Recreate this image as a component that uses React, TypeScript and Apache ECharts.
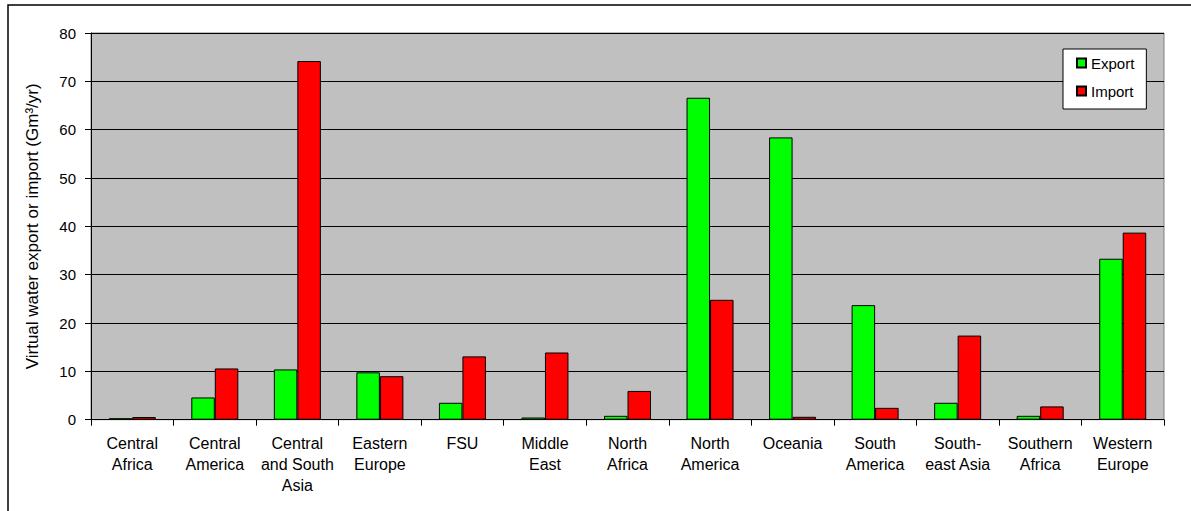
import React, { useEffect, useRef } from "react";
import * as echarts from "echarts";

const categories = [
  "Central\nAfrica",
  "Central\nAmerica",
  "Central\nand South\nAsia",
  "Eastern\nEurope",
  "FSU",
  "Middle\nEast",
  "North\nAfrica",
  "North\nAmerica",
  "Oceania",
  "South\nAmerica",
  "South-\neast Asia",
  "Southern\nAfrica",
  "Western\nEurope",
];
const exportValues = [0.3, 4.6, 10.4, 9.8, 3.5, 0.45, 0.8, 66.6, 58.4, 23.7, 3.5, 0.8, 33.3];
const importValues = [0.55, 10.6, 74.2, 9.0, 13.1, 13.9, 5.95, 24.8, 0.6, 2.45, 17.4, 2.75, 38.7];
const yTicks = { min: 0, max: 80, interval: 10 };
const yAxisName = "Virtual water export or import (Gm\u00B3/yr)";

const FONT = "'Liberation Sans', Arial, sans-serif";

export default function App() {
  const ref = useRef<HTMLDivElement>(null);
  useEffect(() => {
    if (!ref.current) return;
    const chart = echarts.init(ref.current, null, { renderer: "svg" });
    chart.setOption({
      animation: false,
      textStyle: { fontFamily: FONT, color: "#000" },
      grid: {
        left: 91,
        top: 33,
        right: 27,
        bottom: 91.3,
        show: true,
        backgroundColor: "#C0C0C0",
        borderColor: "#808080",
        borderWidth: 1,
      },
      graphic: [
        {
          type: "rect",
          shape: { x: 8, y: 5, width: 1300, height: 700 },
          style: { fill: "none", stroke: "#000", lineWidth: 1.5 },
          silent: true,
        },
      ],
      legend: {
        orient: "vertical",
        left: 1063,
        top: 49,
        padding: [6, 12, 10, 13],
        itemGap: 12,
        itemWidth: 9,
        itemHeight: 9,
        backgroundColor: "#fff",
        borderColor: "#000",
        borderWidth: 1,
        textStyle: { fontFamily: FONT, fontSize: 15, color: "#000", lineHeight: 16 },
        data: [
          { name: "Export", icon: "rect" },
          { name: "Import", icon: "rect" },
        ],
      },
      xAxis: {
        type: "category",
        data: categories,
        axisLine: { show: true, lineStyle: { color: "#000", width: 1 } },
        axisTick: { show: true, interval: 0, length: 6, lineStyle: { color: "#000" } },
        axisLabel: {
          interval: 0,
          margin: 13,
          fontFamily: FONT,
          fontSize: 16,
          lineHeight: 21,
          color: "#000",
          verticalAlign: "top",
        },
        splitLine: { show: false },
      },
      yAxis: {
        type: "value",
        min: yTicks.min,
        max: yTicks.max,
        interval: yTicks.interval,
        name: yAxisName,
        nameLocation: "middle",
        nameGap: 50,
        nameTextStyle: { fontFamily: FONT, fontSize: 17, color: "#000" },
        axisLine: { show: true, lineStyle: { color: "#000", width: 1 } },
        axisTick: { show: true, length: 6, lineStyle: { color: "#000" } },
        axisLabel: { margin: 15, fontFamily: FONT, fontSize: 15, color: "#000" },
        splitLine: { show: true, lineStyle: { color: "#000", width: 1 } },
      },
      series: [
        {
          name: "Export",
          type: "bar",
          data: exportValues,
          barWidth: 23.5,
          barGap: "0%",
          itemStyle: { color: "#00FF00", borderColor: "#000", borderWidth: 1 },
        },
        {
          name: "Import",
          type: "bar",
          data: importValues,
          barWidth: 23.5,
          barGap: "0%",
          itemStyle: { color: "#FF0000", borderColor: "#000", borderWidth: 1 },
        },
      ],
    });
    return () => chart.dispose();
  }, []);
  return (
    <div
      ref={ref}
      style={{ position: "absolute", left: 0, top: 0, width: 1191, height: 511, background: "#fff" }}
    />
  );
}
